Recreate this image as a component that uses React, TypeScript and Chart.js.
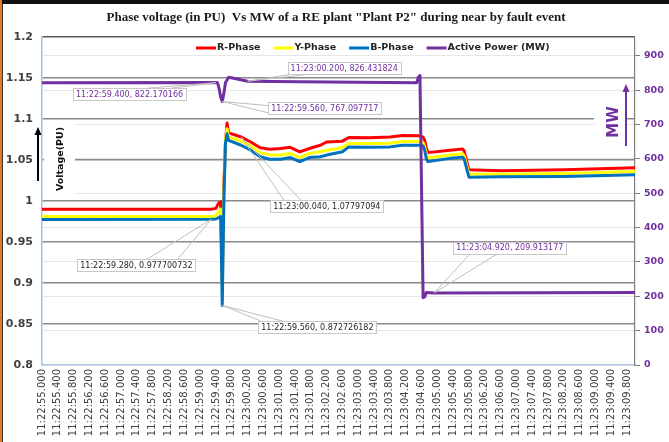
import React, { useEffect, useRef } from 'react';
import { Chart, registerables } from 'chart.js';

Chart.register(...registerables);

const TITLE = 'Phase voltage (in PU)  Vs MW of a RE plant "Plant P2" during near by fault event';
const START_TIME = '11:22:55.000';
const END_TIME = '11:23:10.000';

const X_TICK_LABELS = [
  '11:22:55.000', '11:22:55.400', '11:22:55.800', '11:22:56.200', '11:22:56.600', '11:22:57.000',
  '11:22:57.400', '11:22:57.800', '11:22:58.200', '11:22:58.600', '11:22:59.000', '11:22:59.400',
  '11:22:59.800', '11:23:00.200', '11:23:00.600', '11:23:01.000', '11:23:01.400', '11:23:01.800',
  '11:23:02.200', '11:23:02.600', '11:23:03.000', '11:23:03.400', '11:23:03.800', '11:23:04.200',
  '11:23:04.600', '11:23:05.000', '11:23:05.400', '11:23:05.800', '11:23:06.200', '11:23:06.600',
  '11:23:07.000', '11:23:07.400', '11:23:07.800', '11:23:08.200', '11:23:08.600', '11:23:09.000',
  '11:23:09.400', '11:23:09.800',
];

const LEFT_TICKS = [0.8, 0.85, 0.9, 0.95, 1, 1.05, 1.1, 1.15, 1.2];
const LEFT_TICK_LABELS = ['0.8', '0.85', '0.9', '0.95', '1', '1.05', '1.1', '1.15', '1.2'];
const LEFT_MIN = 0.8;
const LEFT_MAX = 1.2;
const RIGHT_TICKS = [0, 100, 200, 300, 400, 500, 600, 700, 800, 900];
const RIGHT_MIN = 0;
const RIGHT_MAX = 955;

const SERIES_NAMES = ['R-Phase', 'Y-Phase', 'B-Phase', 'Active Power (MW)'];

// Voltage samples (shared time stamps for the three phases)
const V_TIMES = [
  '11:22:55.000', '11:22:59.280', '11:22:59.400', '11:22:59.440', '11:22:59.480', '11:22:59.520',
  '11:22:59.560', '11:22:59.600', '11:22:59.640', '11:22:59.680', '11:22:59.720', '11:23:00.040',
  '11:23:00.280', '11:23:00.520', '11:23:00.760', '11:23:01.040', '11:23:01.280', '11:23:01.520',
  '11:23:01.760', '11:23:02.040', '11:23:02.200', '11:23:02.600', '11:23:02.760', '11:23:03.280',
  '11:23:03.800', '11:23:04.120', '11:23:04.560', '11:23:04.640', '11:23:04.680', '11:23:04.720',
  '11:23:04.760', '11:23:05.320', '11:23:05.640', '11:23:05.680', '11:23:05.760', '11:23:05.800',
  '11:23:06.600', '11:23:08.200', '11:23:10.000',
];
const R_VALUES = [
  0.990, 0.990, 0.991, 0.995, 0.998, 0.999,
  0.900, 1.020, 1.070, 1.095, 1.083, 1.078,
  1.072, 1.065, 1.063, 1.064, 1.0655, 1.060,
  1.064, 1.068, 1.072, 1.073, 1.0775, 1.077,
  1.078, 1.080, 1.0795, 1.078, 1.074, 1.065,
  1.059, 1.062, 1.0635, 1.061, 1.045, 1.038,
  1.037, 1.038, 1.0405,
];
const Y_VALUES = [
  0.981, 0.981, 0.982, 0.985, 0.988, 0.990,
  0.890, 1.010, 1.075, 1.088, 1.078, 1.073,
  1.067, 1.059, 1.0565, 1.056, 1.058, 1.053,
  1.058, 1.060, 1.062, 1.065, 1.0705, 1.070,
  1.0705, 1.0725, 1.0725, 1.071, 1.066, 1.058,
  1.0525, 1.056, 1.0575, 1.055, 1.040, 1.033,
  1.0325, 1.0335, 1.036,
];
const B_VALUES = [
  0.9775, 0.9777, 0.978, 0.979, 0.980, 0.981,
  0.8727, 1.000, 1.070, 1.082, 1.074, 1.068,
  1.062, 1.054, 1.051, 1.051, 1.053, 1.048,
  1.053, 1.054, 1.056, 1.060, 1.066, 1.0655,
  1.066, 1.068, 1.068, 1.067, 1.062, 1.052,
  1.048, 1.052, 1.0535, 1.051, 1.036, 1.029,
  1.0295, 1.030, 1.032,
];

// Active power samples
const P_TIMES = [
  '11:22:55.000', '11:22:59.400', '11:22:59.440', '11:22:59.480', '11:22:59.520', '11:22:59.560',
  '11:22:59.600', '11:22:59.640', '11:22:59.720', '11:22:59.880', '11:23:00.200', '11:23:01.500',
  '11:23:03.000', '11:23:04.480', '11:23:04.520', '11:23:04.560', '11:23:04.640', '11:23:04.680',
  '11:23:04.720', '11:23:04.920', '11:23:10.000',
];
const P_VALUES = [
  822, 822.17, 822, 805, 780, 767.1,
  790, 822, 838, 834, 826.43, 825,
  823, 822, 838, 843, 196, 198,
  211, 209.91, 211,
];

const ANNOTATIONS = [
  { time: '11:22:59.400', value: 822.170166, valueText: '822.170166', axis: 'y1', dx: -143, dy: 5.5, edge: 'top', f: [0.66, 0.87], color: '#7030a0' },
  { time: '11:23:00.200', value: 826.431824, valueText: '826.431824', axis: 'y1', dx: 40, dy: -19, edge: 'bottom', f: [0.04, 0.2], color: '#7030a0' },
  { time: '11:22:59.560', value: 767.097717, valueText: '767.097717', axis: 'y1', dx: 46, dy: 0.5, edge: 'left', f: [0.3, 0.9], color: '#7030a0' },
  { time: '11:23:00.040', value: 1.07797094, valueText: '1.07797094', axis: 'y', dx: 29, dy: 63, edge: 'top', f: [0.12, 0.27], color: '#262626' },
  { time: '11:22:59.280', value: 0.977700732, valueText: '0.977700732', axis: 'y', dx: -134, dy: 40, edge: 'top', f: [0.59, 0.85], color: '#262626' },
  { time: '11:22:59.560', value: 0.872726182, valueText: '0.872726182', axis: 'y', dx: 36, dy: 15.6, edge: 'top', f: [0.02, 0.2], color: '#262626' },
  { time: '11:23:04.920', value: 209.913177, valueText: '209.913177', axis: 'y1', dx: 19, dy: -51, edge: 'bottom', f: [0.15, 0.39], color: '#7030a0' },
];

const COLORS = ['#ff0000', '#ffff00', '#0070c0', '#7030a0'];
const FONT = 'DejaVu Sans';

function clockSec(s: string): number {
  const [h, m, rest] = s.split(':');
  return Number(h) * 3600 + Number(m) * 60 + Number(rest);
}
const BASE = clockSec(START_TIME);
const toSec = (s: string) => Math.round((clockSec(s) - BASE) * 1000) / 1000;

function arrow(ctx: CanvasRenderingContext2D, x: number, yBottom: number, yTop: number, color: string) {
  ctx.save();
  ctx.strokeStyle = color;
  ctx.fillStyle = color;
  ctx.lineWidth = 2;
  ctx.beginPath();
  ctx.moveTo(x, yBottom);
  ctx.lineTo(x, yTop + 6);
  ctx.stroke();
  ctx.beginPath();
  ctx.moveTo(x, yTop);
  ctx.lineTo(x - 3.5, yTop + 8);
  ctx.lineTo(x + 3.5, yTop + 8);
  ctx.closePath();
  ctx.fill();
  ctx.restore();
}

const decor = {
  id: 'decor',
  beforeDraw(chart: any) {
    const ctx = chart.ctx;
    ctx.save();
    ctx.fillStyle = '#ffffff';
    ctx.fillRect(0, 0, chart.width, chart.height);
    ctx.restore();
  },
  afterDatasetsDraw(chart: any) {
    const ctx: CanvasRenderingContext2D = chart.ctx;
    const xs = chart.scales.x;
    ctx.save();
    ctx.font = `8px "${FONT}"`;
    ANNOTATIONS.forEach((a) => {
      const px = xs.getPixelForValue(toSec(a.time));
      const py = chart.scales[a.axis].getPixelForValue(a.value);
      const text = `${a.time}, ${a.valueText}`;
      const w = ctx.measureText(text).width + 6;
      const h = 12;
      const bx = px + a.dx;
      const by = py + a.dy;
      const base = a.f.map((f) => {
        if (a.edge === 'top') return [bx + f * w, by];
        if (a.edge === 'bottom') return [bx + f * w, by + h];
        return [bx, by + f * h];
      });
      ctx.strokeStyle = '#bfbfbf';
      ctx.lineWidth = 1;
      base.forEach(([x, y]) => {
        ctx.beginPath();
        ctx.moveTo(x, y);
        ctx.lineTo(px, py);
        ctx.stroke();
      });
      ctx.fillStyle = '#ffffff';
      ctx.fillRect(bx, by, w, h);
      ctx.strokeStyle = '#c8c8c8';
      ctx.strokeRect(Math.round(bx) + 0.5, Math.round(by) + 0.5, Math.round(w), h);
      ctx.fillStyle = a.color;
      ctx.textBaseline = 'middle';
      ctx.textAlign = 'left';
      ctx.fillText(text, bx + 3, by + h / 2 + 0.5);
    });
    ctx.restore();
  },
  afterDraw(chart: any) {
    const ctx: CanvasRenderingContext2D = chart.ctx;
    ctx.save();
    // title
    ctx.fillStyle = '#1a1a1a';
    ctx.font = 'bold 13px "Liberation Serif"';
    ctx.textAlign = 'center';
    ctx.textBaseline = 'middle';
    ctx.fillText(TITLE, 336, 18);

    // legend
    ctx.font = `bold 9.5px "${FONT}"`;
    ctx.textAlign = 'left';
    let lx = 196;
    const ly = 48;
    SERIES_NAMES.forEach((name, i) => {
      ctx.strokeStyle = COLORS[i];
      ctx.lineWidth = 3;
      ctx.beginPath();
      ctx.moveTo(lx, ly);
      ctx.lineTo(lx + 20, ly);
      ctx.stroke();
      ctx.fillStyle = '#262626';
      ctx.fillText(name, lx + 21, ly);
      lx += 21 + ctx.measureText(name).width + 13;
    });

    // Voltage axis label
    ctx.fillStyle = '#ffffff';
    ctx.fillRect(44, 124, 31, 70);
    ctx.save();
    ctx.translate(61, 159);
    ctx.rotate(-Math.PI / 2);
    ctx.fillStyle = '#111111';
    ctx.font = `bold 9.5px "${FONT}"`;
    ctx.textAlign = 'center';
    ctx.fillText('Voltage(PU)', 0, 0);
    ctx.restore();
    arrow(ctx, 38, 181, 127, '#000000');

    // MW label
    ctx.fillStyle = '#ffffff';
    ctx.fillRect(594, 100, 31, 46);
    ctx.save();
    ctx.translate(614, 122);
    ctx.rotate(-Math.PI / 2);
    ctx.fillStyle = '#7030a0';
    ctx.font = `bold 15px "${FONT}"`;
    ctx.textAlign = 'center';
    ctx.fillText('MW', 0, 0);
    ctx.restore();
    arrow(ctx, 626, 146, 84, '#7030a0');

    // frame
    ctx.fillStyle = '#111111';
    ctx.fillRect(0, 0, chart.width, 4);
    ctx.fillStyle = '#e8772a';
    ctx.fillRect(0, 0, 2, chart.height);
    ctx.fillStyle = '#333333';
    ctx.fillRect(2, 4, 1, chart.height - 4);
    ctx.restore();
  },
};

export default function App() {
  const ref = useRef<HTMLCanvasElement>(null);
  useEffect(() => {
    if (!ref.current) return;
    const mk = (times: string[], vals: number[]) => times.map((t, i) => ({ x: toSec(t), y: vals[i] }));
    const chart = new Chart(ref.current, {
      type: 'line',
      data: {
        datasets: [
          { label: SERIES_NAMES[0], data: mk(V_TIMES, R_VALUES), borderColor: COLORS[0], yAxisID: 'y', order: 3 },
          { label: SERIES_NAMES[1], data: mk(V_TIMES, Y_VALUES), borderColor: COLORS[1], yAxisID: 'y', order: 2 },
          { label: SERIES_NAMES[2], data: mk(V_TIMES, B_VALUES), borderColor: COLORS[2], yAxisID: 'y', order: 1 },
          { label: SERIES_NAMES[3], data: mk(P_TIMES, P_VALUES), borderColor: COLORS[3], yAxisID: 'y1', order: 0, borderWidth: 3 },
        ] as any,
      },
      options: {
        animation: false,
        responsive: false,
        devicePixelRatio: 1,
        layout: { padding: { top: 37, left: 0, right: 0, bottom: 0 } },
        elements: {
          point: { radius: 0 },
          line: { borderWidth: 3, tension: 0, fill: false, borderJoinStyle: 'round' },
        },
        plugins: { legend: { display: false }, title: { display: false }, tooltip: { enabled: false } },
        scales: {
          x: {
            type: 'linear',
            position: 'bottom',
            min: toSec(START_TIME),
            max: toSec(END_TIME),
            afterBuildTicks: (s: any) => {
              s.ticks = X_TICK_LABELS.map((l) => ({ value: toSec(l) }));
            },
            afterFit: (s: any) => {
              s.height = 77;
            },
            ticks: {
              autoSkip: false,
              maxRotation: 90,
              minRotation: 90,
              padding: 4,
              color: '#404040',
              font: { family: FONT, size: 10 },
              callback: (_v: any, i: number) => X_TICK_LABELS[i],
            },
            grid: { drawOnChartArea: false, drawTicks: false },
            border: { color: '#b4c7e7', width: 1.5 },
          },
          y: {
            type: 'linear',
            position: 'left',
            min: LEFT_MIN,
            max: LEFT_MAX,
            afterBuildTicks: (s: any) => {
              s.ticks = LEFT_TICKS.map((v) => ({ value: v }));
            },
            afterFit: (s: any) => {
              s.width = 42;
            },
            ticks: {
              padding: 9,
              color: '#404040',
              font: { family: FONT, size: 11, weight: 'bold' },
              callback: (_v: any, i: number) => LEFT_TICK_LABELS[i],
            },
            grid: {
              drawTicks: false,
              lineWidth: 1.4,
              color: (c: any) =>
                c.tick && c.tick.value === LEFT_MAX ? '#595959' : c.tick && c.tick.value === LEFT_MIN ? 'rgba(0,0,0,0)' : '#8a8a8a',
            },
            border: { color: '#9dc3e6', width: 1.5 },
          },
          y1: {
            type: 'linear',
            position: 'right',
            min: RIGHT_MIN,
            max: RIGHT_MAX,
            afterBuildTicks: (s: any) => {
              s.ticks = RIGHT_TICKS.map((v) => ({ value: v }));
            },
            afterFit: (s: any) => {
              s.width = 34;
            },
            ticks: {
              padding: 4,
              color: '#7030a0',
              font: { family: FONT, size: 9.5, weight: 'bold' },
              callback: (v: any) => String(v),
            },
            grid: {
              z: -2,
              color: '#e6e6e6',
              tickColor: '#7f7f7f',
              tickLength: 5,
              lineWidth: 1,
            },
            border: { color: '#7f7f7f', width: 1.2 },
          },
        },
      } as any,
      plugins: [decor],
    });
    return () => chart.destroy();
  }, []);
  return (
    <div style={{ position: 'fixed', left: 0, top: 0, width: 669, height: 442, background: '#ffffff' }}>
      <canvas ref={ref} width={669} height={442} style={{ display: 'block', width: 669, height: 442 }} />
    </div>
  );
}
